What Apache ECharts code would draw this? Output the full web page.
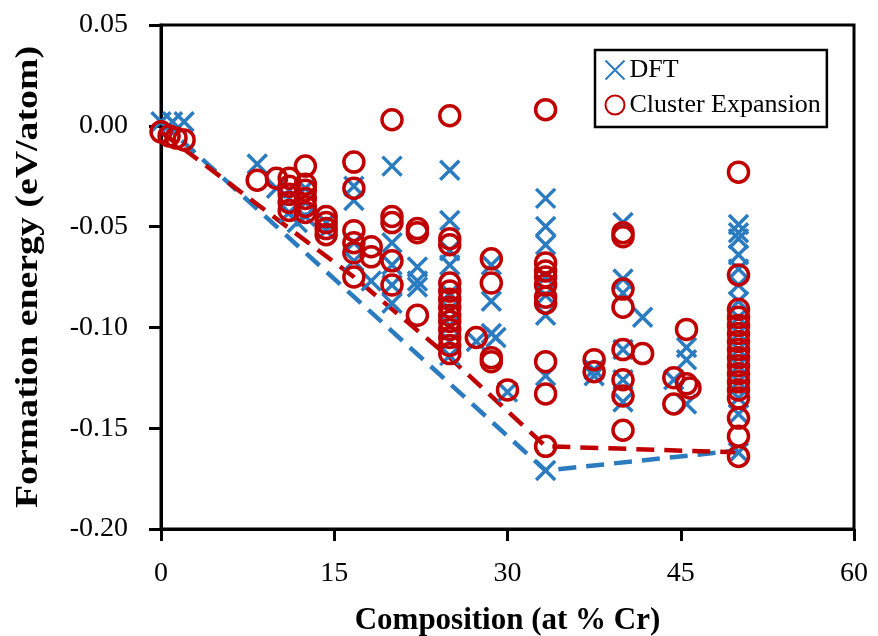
<!DOCTYPE html>
<html>
<head>
<meta charset="utf-8">
<script src="https://cdn.jsdelivr.net/npm/echarts@6/dist/echarts.min.js"></script>
<style>
  html, body { margin: 0; padding: 0; background: #fff; }
  #chart { width: 878px; height: 636px; }
</style>
</head>
<body>
<div id="chart"></div>
<script>
  // DFT formation energies (composition at % Cr, eV/atom)
  var dftComp = [0, 1, 2, 8.33, 10, 11.1, 11.1, 11.1, 12.5, 12.5, 12.5, 11.8,
    14.3, 14.3, 16.7, 16.7, 16.7, 16.7, 18.2, 20, 20, 20, 20, 20, 22.2, 22.2, 22.2,
    25, 25, 25, 25, 25, 25, 25, 25, 25, 27.3, 28.6, 28.6, 28.6, 29, 30,
    33.3, 33.3, 33.3, 33.3, 33.3, 33.3, 33.3, 33.3, 37.5, 37.5,
    40, 40, 40, 40, 40, 40, 41.7, 44.4, 45.5, 45.5, 45.5,
    50, 50, 50, 50, 50, 50, 50, 50, 50, 50, 50, 50, 50, 50, 50];
  var dftEnergy = [0.002, 0.002, 0.002, -0.019, -0.031, -0.032, -0.043, -0.036, -0.031, -0.038, -0.045, -0.048,
    -0.048, -0.052, -0.030, -0.037, -0.058, -0.067, -0.077, -0.020, -0.058, -0.069, -0.079, -0.088, -0.070, -0.077, -0.080,
    -0.022, -0.047, -0.062, -0.069, -0.083, -0.091, -0.099, -0.107, -0.114, -0.107, -0.069, -0.087, -0.103, -0.105, -0.132,
    -0.036, -0.050, -0.059, -0.075, -0.084, -0.094, -0.124, -0.171, -0.124, -0.121,
    -0.048, -0.076, -0.083, -0.111, -0.126, -0.137, -0.095, -0.126, -0.110, -0.116, -0.138,
    -0.049, -0.053, -0.056, -0.064, -0.071, -0.079, -0.087, -0.095, -0.103, -0.111, -0.119, -0.127, -0.135, -0.143, -0.162];

  // Cluster expansion predictions
  var ceComp = [0, 0.7, 1.3, 2, 8.33, 10, 11.1, 11.1, 11.1, 11.1, 11.1,
    12.5, 12.5, 12.5, 12.5, 12.5, 12.5, 14.3, 14.3, 14.3, 14.3,
    16.7, 16.7, 16.7, 16.7, 16.7, 16.7, 18.2, 18.2, 20, 20, 20, 20, 20, 22.2, 22.2, 22.2,
    25, 25, 25, 25, 25, 25, 25, 25, 25, 25, 25, 25, 25, 27.3, 28.6, 28.6, 28.6, 28.6, 30,
    33.3, 33.3, 33.3, 33.3, 33.3, 33.3, 33.3, 33.3, 33.3, 33.3, 37.5, 37.5,
    40, 40, 40, 40, 40, 40, 40, 40, 41.7, 44.4, 44.4, 45.5, 45.5, 45.8,
    50, 50, 50, 50, 50, 50, 50, 50, 50, 50, 50, 50, 50, 50, 50, 50, 50];
  var ceEnergy = [-0.003, -0.005, -0.006, -0.007, -0.027, -0.026, -0.026, -0.030, -0.034, -0.038, -0.042,
    -0.020, -0.029, -0.032, -0.036, -0.040, -0.043, -0.045, -0.048, -0.051, -0.054,
    -0.018, -0.031, -0.052, -0.058, -0.063, -0.075, -0.060, -0.065, 0.003, -0.045, -0.048, -0.067, -0.079, -0.051, -0.053, -0.094,
    0.005, -0.056, -0.059, -0.078, -0.082, -0.086, -0.090, -0.094, -0.097, -0.101, -0.105, -0.109, -0.113, -0.105, -0.066, -0.078, -0.115, -0.117, -0.131,
    0.008, -0.068, -0.072, -0.075, -0.079, -0.085, -0.088, -0.117, -0.133, -0.159, -0.116, -0.122,
    -0.053, -0.055, -0.081, -0.090, -0.111, -0.126, -0.134, -0.151, -0.113, -0.125, -0.138, -0.101, -0.128, -0.130,
    -0.023, -0.074, -0.091, -0.095, -0.099, -0.103, -0.107, -0.111, -0.115, -0.119, -0.123, -0.127, -0.131, -0.135, -0.145, -0.154, -0.164];

  // convex hulls
  var dftHullComp = [0, 33.3, 50];
  var dftHullEnergy = [0.002, -0.171, -0.161];
  var ceHullComp = [0, 16.7, 25, 33.3, 50];
  var ceHullEnergy = [-0.003, -0.075, -0.115, -0.159, -0.162];

  var xTicks = [0, 15, 30, 45, 60];

  function pairs(xs, ys) {
    return xs.map(function (x, i) { return [x, ys[i]]; });
  }

  var blue = '#2b7bc0';
  var red = '#c00000';
  var serif = '"Liberation Serif", "Times New Roman", serif';
  var crossPath = 'path://M0,0L10,10M10,0L0,10';

  var chart = echarts.init(document.getElementById('chart'));
  chart.setOption({
    animation: false,
    backgroundColor: '#fff',
    grid: {
      left: 161, right: 24, top: 25, bottom: 107,
      outerBoundsMode: 'none',
      show: true, borderColor: '#000', borderWidth: 3, backgroundColor: 'transparent'
    },
    legend: {
      orient: 'vertical',
      left: 595, top: 50,
      padding: [7, 6, 9, 8],
      itemGap: 9,
      itemWidth: 19, itemHeight: 19,
      borderColor: '#000', borderWidth: 2.5,
      textStyle: { fontFamily: serif, fontSize: 26, color: '#000' },
      data: ['DFT', 'Cluster Expansion']
    },
    // y-axis title, stretched along its length like the source figure
    graphic: [{
      type: 'text',
      x: 29, y: 277,
      rotation: Math.PI / 2,
      scaleX: 1.22,
      style: {
        text: 'Formation energy (eV/atom)',
        font: 'bold 31px ' + serif,
        fill: '#000',
        textAlign: 'center',
        textVerticalAlign: 'middle'
      }
    }],
    xAxis: {
      type: 'value',
      min: 0, max: 60, interval: 15,
      name: 'Composition (at % Cr)',
      nameLocation: 'middle',
      nameGap: 76,
      nameMoveOverlap: false,
      nameTextStyle: { fontFamily: serif, fontSize: 31, fontWeight: 'bold', color: '#000' },
      axisLine: { onZero: false, lineStyle: { color: '#000', width: 3 } },
      axisTick: { show: true, inside: false, length: 12, lineStyle: { color: '#000', width: 3 } },
      axisLabel: {
        fontFamily: serif, fontSize: 28, color: '#000', margin: 31,
        formatter: function (v) { return xTicks.indexOf(v) >= 0 ? String(v) : ''; }
      },
      splitLine: { show: false }
    },
    yAxis: {
      type: 'value',
      min: -0.2, max: 0.05, interval: 0.05,
      axisLine: { onZero: false, lineStyle: { color: '#000', width: 3 } },
      axisTick: { show: true, inside: false, length: 12, lineStyle: { color: '#000', width: 3 } },
      axisLabel: {
        fontFamily: serif, fontSize: 28, color: '#000', margin: 33,
        formatter: function (v) { return v.toFixed(2); }
      },
      splitLine: { show: false }
    },
    series: [
      {
        name: 'DFT hull',
        type: 'line',
        data: pairs(dftHullComp, dftHullEnergy),
        showSymbol: false,
        lineStyle: { color: blue, width: 4.5, type: [18, 10] },
        z: 1
      },
      {
        name: 'CE hull',
        type: 'line',
        data: pairs(ceHullComp, ceHullEnergy),
        showSymbol: false,
        lineStyle: { color: red, width: 4.5, type: [18, 10] },
        z: 1
      },
      {
        name: 'DFT',
        type: 'scatter',
        data: pairs(dftComp, dftEnergy),
        symbol: crossPath,
        symbolSize: 19,
        itemStyle: { color: 'none', borderColor: blue, borderWidth: 3.5, opacity: 1 },
        z: 2
      },
      {
        name: 'Cluster Expansion',
        type: 'scatter',
        data: pairs(ceComp, ceEnergy),
        symbol: 'circle',
        symbolSize: 20,
        itemStyle: { color: 'none', borderColor: red, borderWidth: 3.5, opacity: 1 },
        z: 3
      }
    ]
  });
</script>
</body>
</html>
